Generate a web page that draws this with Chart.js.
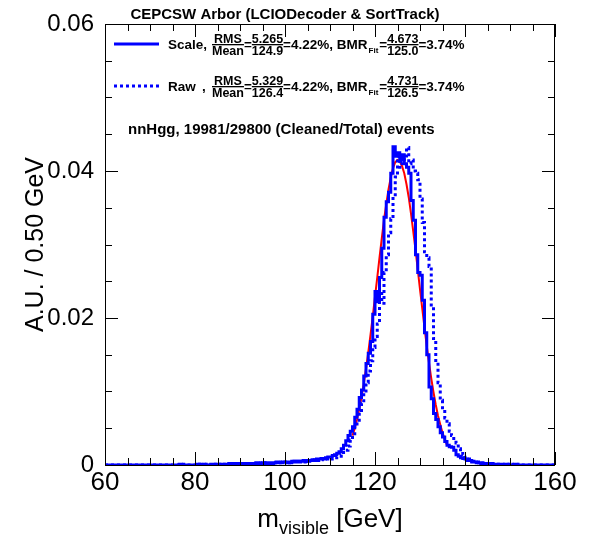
<!DOCTYPE html>
<html>
<head>
<meta charset="utf-8">
<script src="https://cdn.jsdelivr.net/npm/chart.js@4.4.1/dist/chart.umd.min.js"></script>
<style>
  html, body { margin: 0; padding: 0; background: #fff; }
  canvas { display: block; }
</style>
</head>
<body>
<canvas id="chartMasa" width="597" height="536"></canvas>
<script>
// histogram bins: 60..160 GeV, 0.5 GeV wide (values = A.U. per bin)
const BIN_START = 60;
const BIN_WIDTH = 0.5;

const scaleVals = [
  0, 0, 0, 0, 0, 0, 0, 0, 0, 0,
  0, 0, 0, 0, 0, 0, 0, 0, 0, 0,
  0, 0, 0, 0, 0, 0, 0, 0, 0, 0,
  0, 0, 0, 0.0001, 0, 0, 0, 0, 0, 0,
  0, 0.0001, 0, 0, 0.0001, 0, 0, 0.0001, 0, 0.0001,
  0.0001, 0, 0.0001, 0.0001, 0.0001, 0.0002, 0.0001, 0.0001, 0.0002, 0.0001,
  0.0002, 0.0001, 0.0002, 0.0002, 0.0001, 0.0002, 0.0002, 0.0003, 0.0002, 0.0002,
  0.0003, 0.0002, 0.0003, 0.0003, 0.0002, 0.0003, 0.0004, 0.0003, 0.0003, 0.0004,
  0.0004, 0.0003, 0.0004, 0.0005, 0.0004, 0.0005, 0.0004, 0.0005, 0.0006, 0.0005,
  0.0006, 0.0006, 0.0007, 0.0006, 0.0008, 0.0008, 0.0009, 0.0008, 0.0010, 0.0011,
  0.0011, 0.0013, 0.0014, 0.0016, 0.0018, 0.0022, 0.0027, 0.0033, 0.0040, 0.0046,
  0.0052, 0.0065, 0.0076, 0.0092, 0.0102, 0.0121, 0.0138, 0.0152, 0.0168, 0.0205,
  0.0236, 0.0222, 0.0255, 0.0295, 0.0337, 0.0358, 0.0371, 0.0397, 0.0433, 0.0420,
  0.0425, 0.0415, 0.0422, 0.0410, 0.0405, 0.0397, 0.0360, 0.0333, 0.0286, 0.0262,
  0.0258, 0.0224, 0.0180, 0.0150, 0.0106, 0.0090, 0.0070, 0.0062, 0.0052, 0.0044,
  0.0038, 0.0032, 0.0027, 0.0025, 0.0024, 0.0020, 0.0014, 0.0012, 0.0010, 0.0009,
  0.0008, 0.0006, 0.0006, 0.0004, 0.0004, 0.0003, 0.0003, 0.0002, 0.0002, 0.0002,
  0.0001, 0.0002, 0.0001, 0.0001, 0.0001, 0.0001, 0, 0.0001, 0, 0.0001,
  0, 0, 0.0001, 0, 0, 0, 0, 0, 0, 0,
  0, 0, 0, 0, 0, 0, 0, 0, 0, 0
];

const rawVals = [
  0, 0, 0, 0, 0, 0, 0, 0, 0, 0,
  0, 0, 0, 0, 0, 0, 0, 0, 0, 0,
  0, 0, 0, 0, 0, 0, 0, 0, 0, 0,
  0, 0, 0, 0, 0, 0.0001, 0, 0, 0, 0,
  0, 0, 0.0001, 0, 0, 0.0001, 0, 0, 0.0001, 0,
  0.0001, 0, 0.0001, 0, 0.0001, 0.0001, 0.0001, 0.0002, 0.0001, 0.0001,
  0.0001, 0.0002, 0.0002, 0.0001, 0.0002, 0.0002, 0.0002, 0.0002, 0.0003, 0.0002,
  0.0002, 0.0003, 0.0003, 0.0002, 0.0003, 0.0003, 0.0003, 0.0004, 0.0003, 0.0003,
  0.0004, 0.0004, 0.0003, 0.0004, 0.0005, 0.0004, 0.0005, 0.0005, 0.0004, 0.0006,
  0.0005, 0.0006, 0.0006, 0.0007, 0.0006, 0.0007, 0.0008, 0.0007, 0.0008, 0.0009,
  0.0008, 0.0009, 0.0010, 0.0011, 0.0012, 0.0014, 0.0017, 0.0020, 0.0026, 0.0034,
  0.0040, 0.0052, 0.0058, 0.0072, 0.0084, 0.0098, 0.0112, 0.0128, 0.0142, 0.0160,
  0.0175, 0.0192, 0.0238, 0.0220, 0.0262, 0.0286, 0.0316, 0.0335, 0.0365, 0.0392,
  0.0420, 0.0405, 0.0412, 0.0418, 0.0432, 0.0410, 0.0415, 0.0400, 0.0397, 0.0388,
  0.0362, 0.0330, 0.0290, 0.0282, 0.0270, 0.0215, 0.0172, 0.0140, 0.0112, 0.0088,
  0.0078, 0.0064, 0.0056, 0.0046, 0.0040, 0.0034, 0.0030, 0.0022, 0.0018, 0.0014,
  0.0010, 0.0008, 0.0006, 0.0005, 0.0004, 0.0004, 0.0003, 0.0003, 0.0002, 0.0002,
  0.0002, 0.0001, 0.0001, 0.0002, 0.0001, 0.0001, 0.0001, 0, 0.0001, 0,
  0.0001, 0, 0, 0, 0.0001, 0, 0, 0, 0, 0,
  0, 0, 0, 0, 0, 0, 0, 0, 0, 0
];

// red fit curve, sampled every 0.5 GeV from 115 GeV
const FIT_START = 115;
const fitVals = [
  0.0040, 0.0050, 0.0062, 0.0076, 0.0092, 0.0110, 0.0131, 0.0153, 0.0177, 0.0202,
  0.0229, 0.0255, 0.0282, 0.0308, 0.0333, 0.0355, 0.0375, 0.0391, 0.0404, 0.0412,
  0.0415, 0.0413, 0.0407, 0.0397, 0.0382, 0.0364, 0.0342, 0.0318, 0.0293, 0.0266,
  0.0239, 0.0213, 0.0187, 0.0162, 0.0139, 0.0118, 0.0099, 0.0082, 0.0067, 0.0055,
  0.0044, 0.0035, 0.0027
];

const xTickLabels = ["60", "80", "100", "120", "140", "160"];
const yTickLabels = ["0", "0.02", "0.04", "0.06"];

// legend texts
const legendNames = ["Scale,", "Raw"];
const rmsVals = ["5.265", "5.329"];
const meanVals = ["124.9", "126.4"];
const ratioVals = ["4.22%", "4.22%"];
const fitSigmaVals = ["4.673", "4.731"];
const fitMeanVals = ["125.0", "126.5"];
const bmrVals = ["3.74%", "3.74%"];

const TITULO = "CEPCSW Arbor (LCIODecoder & SortTrack)";
const SUBTITULO = "nnHgg, 19981/29800 (Cleaned/Total) events";

const AZUL = "#0000ff";
const ROJO = "#ff0000";
const FUENTE = "'Liberation Sans', Arial, Helvetica, sans-serif";

function histPoints(vals) {
  const pts = vals.map((v, i) => ({ x: BIN_START + i * BIN_WIDTH, y: v }));
  pts.push({ x: BIN_START + vals.length * BIN_WIDTH, y: vals[vals.length - 1] });
  return pts;
}

const fitPoints = fitVals.map((v, i) => ({ x: FIT_START + i * BIN_WIDTH, y: v }));

// frame + inner ticks like ROOT
const marcoPlugin = {
  id: "marco",
  afterDatasetsDraw(chart) {
    const { ctx, chartArea: a, scales } = chart;
    const xs = scales.x, ys = scales.y;
    ctx.save();
    ctx.strokeStyle = "#000";
    ctx.lineWidth = 1;
    ctx.strokeRect(a.left + 0.5, a.top + 0.5, a.right - a.left - 1, a.bottom - a.top);
    ctx.beginPath();
    for (let v = 60; v <= 160; v += 5) {
      const px = Math.round(xs.getPixelForValue(v)) + 0.5;
      const len = (v - 60) % 20 === 0 ? 13 : 7;
      ctx.moveTo(px, a.bottom); ctx.lineTo(px, a.bottom - len);
      ctx.moveTo(px, a.top); ctx.lineTo(px, a.top + len);
    }
    for (let k = 0; k <= 12; k++) {
      const py = Math.round(ys.getPixelForValue(k * 0.005)) + 0.5;
      const len = k % 4 === 0 ? 13 : 7;
      ctx.moveTo(a.left, py); ctx.lineTo(a.left + len, py);
      ctx.moveTo(a.right, py); ctx.lineTo(a.right - len, py);
    }
    ctx.stroke();
    ctx.restore();
  }
};

function drawFrac(ctx, x, yBar, num, den) {
  ctx.font = "bold 12.5px " + FUENTE;
  const w = Math.max(ctx.measureText(num).width, ctx.measureText(den).width);
  ctx.textAlign = "center";
  ctx.fillText(num, x + w / 2, yBar - 1.5);
  ctx.fillText(den, x + w / 2, yBar + 10.5);
  ctx.fillRect(x, yBar - 0.5, w, 1.3);
  ctx.textAlign = "left";
  return x + w;
}

function drawTxt(ctx, x, y, txt, size) {
  ctx.font = "bold " + size + "px " + FUENTE;
  ctx.fillText(txt, x, y);
  return x + ctx.measureText(txt).width;
}

const textosPlugin = {
  id: "textos",
  afterDraw(chart) {
    const { ctx, chartArea: a } = chart;
    ctx.save();
    ctx.fillStyle = "#000";
    ctx.textBaseline = "alphabetic";

    // title
    ctx.font = "bold 15px " + FUENTE;
    ctx.textAlign = "center";
    ctx.fillText(TITULO, 285, 19);
    ctx.textAlign = "left";
    ctx.fillText(SUBTITULO, 128, 134);

    // legend rows
    for (let r = 0; r < 2; r++) {
      const yBar = 44.5 + r * 42;
      const yBase = yBar + 4.5;
      ctx.save();
      ctx.strokeStyle = AZUL;
      ctx.lineWidth = 3;
      if (r === 1) ctx.setLineDash([3, 3]);
      ctx.beginPath();
      ctx.moveTo(114, yBar - 0.5);
      ctx.lineTo(159, yBar - 0.5);
      ctx.stroke();
      ctx.restore();

      drawTxt(ctx, 168, yBase, legendNames[r], 13.5);
      if (r === 1) drawTxt(ctx, 202, yBase, ",", 13.5);
      let x = 212;
      x = drawFrac(ctx, x, yBar, "RMS", "Mean");
      x = drawTxt(ctx, x, yBase, "=", 13.5);
      x = drawFrac(ctx, x, yBar, rmsVals[r], meanVals[r]);
      x = drawTxt(ctx, x, yBase, "=" + ratioVals[r] + ", BMR", 13.5);
      x = drawTxt(ctx, x + 1, yBase + 4, "Fit", 8);
      x = drawTxt(ctx, x + 1, yBase, "=", 13.5);
      x = drawFrac(ctx, x, yBar, fitSigmaVals[r], fitMeanVals[r]);
      drawTxt(ctx, x, yBase, "=" + bmrVals[r], 13.5);
    }

    // axis titles
    ctx.font = "26px " + FUENTE;
    const parte1 = "m", parte3 = " [GeV]";
    const w1 = ctx.measureText(parte1).width;
    const w3 = ctx.measureText(parte3).width;
    ctx.font = "18px " + FUENTE;
    const w2 = ctx.measureText("visible").width;
    let xt = (a.left + a.right) / 2 - (w1 + w2 + w3) / 2;
    ctx.font = "26px " + FUENTE;
    ctx.fillText(parte1, xt, 527);
    ctx.font = "18px " + FUENTE;
    ctx.fillText("visible", xt + w1, 534);
    ctx.font = "26px " + FUENTE;
    ctx.fillText(parte3, xt + w1 + w2, 527);

    ctx.font = "25px " + FUENTE;
    ctx.translate(36, (a.top + a.bottom) / 2);
    ctx.rotate(-Math.PI / 2);
    ctx.textAlign = "center";
    ctx.textBaseline = "middle";
    ctx.fillText("A.U. / 0.50 GeV", 0, 0);
    ctx.restore();
  }
};

Chart.defaults.font.family = FUENTE;
Chart.defaults.color = "#000";

new Chart(document.getElementById("chartMasa"), {
  type: "line",
  data: {
    datasets: [
      {
        label: "Scale",
        data: histPoints(scaleVals),
        borderColor: AZUL,
        borderWidth: 3,
        stepped: true,
        pointRadius: 0,
        fill: false,
      },
      {
        label: "Raw",
        data: histPoints(rawVals),
        borderColor: AZUL,
        borderWidth: 3,
        borderDash: [3, 3],
        stepped: true,
        pointRadius: 0,
        fill: false,
      },
      {
        label: "Fit",
        data: fitPoints,
        borderColor: ROJO,
        borderWidth: 2,
        tension: 0,
        pointRadius: 0,
        fill: false,
      },
    ],
  },
  options: {
    responsive: false,
    animation: false,
    devicePixelRatio: 1,
    layout: { padding: { left: 0, right: 42, top: 24, bottom: 0 } },
    plugins: { legend: { display: false }, tooltip: { enabled: false } },
    scales: {
      x: {
        type: "linear",
        min: 60,
        max: 160,
        grid: { display: false },
        border: { display: false },
        ticks: {
          stepSize: 20,
          padding: -6,
          font: { size: 26 },
          maxRotation: 0,
          callback: (v, i) => xTickLabels[i],
        },
        afterFit: (s) => { s.height = 71; },
      },
      y: {
        min: 0,
        max: 0.06,
        grid: { display: false },
        border: { display: false },
        ticks: {
          stepSize: 0.02,
          padding: 3,
          font: { size: 24 },
          callback: (v, i) => yTickLabels[i],
        },
        afterFit: (s) => { s.width = 105; },
      },
    },
  },
  plugins: [marcoPlugin, textosPlugin],
});
</script>
</body>
</html>
